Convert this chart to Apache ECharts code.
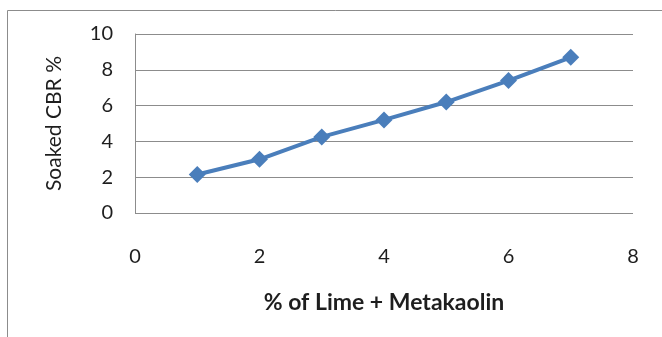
<!DOCTYPE html>
<html>
<head>
<meta charset="utf-8">
<script src="https://cdn.jsdelivr.net/npm/echarts@6/dist/echarts.min.js"></script>
<style>
  html, body { margin: 0; padding: 0; background: #fff; }
  #chart { width: 662px; height: 337px; }
</style>
</head>
<body>
<div id="chart"></div>
<script>
// Soaked CBR against lime + metakaolin content
const limeMetakaolinPct = [1, 2, 3, 4, 5, 6, 7];
const soakedCBR = [2.15, 3.0, 4.25, 5.2, 6.2, 7.4, 8.7];
const xTicks = [0, 2, 4, 6, 8];
const yTicks = [0, 2, 4, 6, 8, 10];

const FONT = 'Lato';
const TEXT = '#1e1e1e';
const chart = echarts.init(document.getElementById('chart'));

chart.setOption({
  animation: false,
  backgroundColor: '#ffffff',
  textStyle: { fontFamily: FONT },
  graphic: [{
    type: 'rect',
    shape: { x: 7.5, y: 10.5, width: 700, height: 400 },
    style: { fill: 'none', stroke: '#8c8c8c', lineWidth: 1 },
    silent: true
  }],
  grid: { left: 135, right: 29, top: 34, bottom: 124 },
  xAxis: {
    type: 'value',
    min: xTicks[0],
    max: xTicks[xTicks.length - 1],
    interval: 2,
    name: '% of Lime + Metakaolin',
    nameLocation: 'middle',
    nameGap: 78,
    nameTextStyle: { fontFamily: FONT, fontSize: 23, fontWeight: 'bold', color: TEXT },
    axisLine: { show: false },
    axisTick: { show: false },
    splitLine: { show: false },
    axisLabel: { margin: 34, fontFamily: FONT, fontSize: 20, color: TEXT }
  },
  yAxis: {
    type: 'value',
    min: yTicks[0],
    max: yTicks[yTicks.length - 1],
    interval: 2,
    name: 'Soaked CBR %',
    nameLocation: 'middle',
    nameGap: 70,
    nameTextStyle: { fontFamily: FONT, fontSize: 21, color: TEXT },
    axisLine: { show: true, onZero: false, lineStyle: { color: '#8c8c8c', width: 1 } },
    axisTick: { show: false },
    splitLine: { show: true, lineStyle: { color: '#8c8c8c', width: 1 } },
    axisLabel: { margin: 22, fontFamily: FONT, fontSize: 20, color: TEXT }
  },
  series: [{
    type: 'line',
    data: limeMetakaolinPct.map((x, i) => [x, soakedCBR[i]]),
    symbol: 'diamond',
    symbolSize: 17,
    lineStyle: { color: '#4a7ebb', width: 4 },
    itemStyle: { color: '#4a7ebb' }
  }]
});
</script>
</body>
</html>
